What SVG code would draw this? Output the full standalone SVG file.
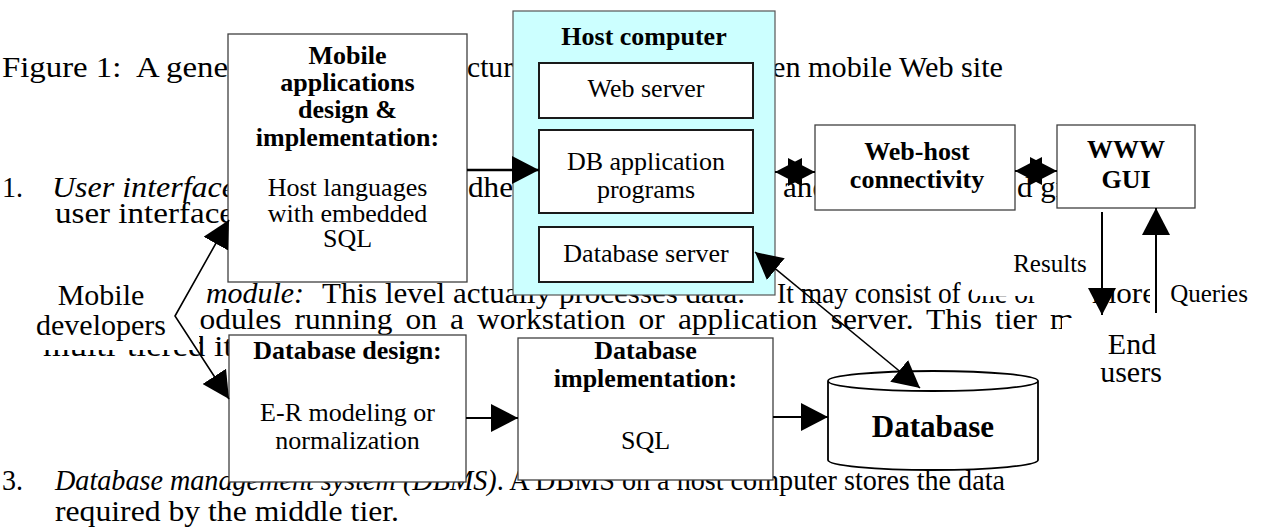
<svg xmlns="http://www.w3.org/2000/svg" width="1264" height="529" viewBox="0 0 1264 529">
<style>
text{font-family:"Liberation Serif","Times New Roman",serif;fill:#000}
.b{font-size:30px}
.i{font-style:italic}
.d{font-size:26px;text-anchor:middle}
.db{font-size:26px;font-weight:bold;text-anchor:middle}
.lab{font-size:30px;text-anchor:middle}
.sm{font-size:25px;text-anchor:middle}
.occ{fill:#fff;stroke:none}
.box{fill:#fff;stroke:#404040;stroke-width:1.3}
.inner{fill:#fff;stroke:#1a1a1a;stroke-width:2}
.ln{stroke:#000;fill:none}
</style>
<defs>
<marker id="ah" viewBox="0 0 27 28" refX="27" refY="14" markerWidth="27" markerHeight="28" markerUnits="userSpaceOnUse" orient="auto-start-reverse">
<path d="M0,0 L27,14 L0,28 Z" fill="#000"/>
</marker>
</defs>
<rect width="1264" height="529" fill="#fff"/>
<g id="page-text">
<text class="b" x="2" y="77" xml:space="preserve" textLength="226" lengthAdjust="spacingAndGlyphs">Figure 1:  A gene</text>
<text class="b" x="467" y="77" textLength="46" lengthAdjust="spacingAndGlyphs">ctur</text>
<text class="b" x="772" y="77" textLength="231" lengthAdjust="spacingAndGlyphs">en mobile Web site</text>
<text class="b" x="2" y="197" textLength="21" lengthAdjust="spacingAndGlyphs">1.</text>
<text class="b i" x="52" y="197" textLength="184" lengthAdjust="spacingAndGlyphs">User interface</text>
<text class="b" x="468" y="197" textLength="45" lengthAdjust="spacingAndGlyphs">dhe</text>
<text class="b" x="783" y="197" textLength="45" lengthAdjust="spacingAndGlyphs">and</text>
<text class="b" x="1017" y="197" xml:space="preserve" textLength="49" lengthAdjust="spacingAndGlyphs">d gr</text>
<text class="b" x="55" y="223" textLength="179" lengthAdjust="spacingAndGlyphs">user interface</text>
<text class="b i" x="206" y="303" textLength="98" lengthAdjust="spacingAndGlyphs">module:</text>
<text class="b" x="322" y="303" textLength="423" lengthAdjust="spacingAndGlyphs">This level actually processes data.</text>
<text class="b" x="777" y="303" textLength="260" lengthAdjust="spacingAndGlyphs">It may consist of one or</text>
<text class="b" x="1092" y="303" textLength="64" lengthAdjust="spacingAndGlyphs">more</text>
<text class="b" x="175" y="329" word-spacing="5" textLength="862" lengthAdjust="spacingAndGlyphs">modules running on a workstation or application server. This tier</text>
<text class="b" x="1050" y="329" textLength="24" lengthAdjust="spacingAndGlyphs">m</text>
<text class="b" x="43" y="356" textLength="190" lengthAdjust="spacingAndGlyphs">multi-tiered it</text>
<text class="b" x="2" y="490" textLength="21" lengthAdjust="spacingAndGlyphs">3.</text>
<text class="b" x="55" y="490" textLength="950" lengthAdjust="spacingAndGlyphs"><tspan class="i">Database management system (DBMS)</tspan>. A DBMS on a host computer stores the data</text>
<text class="b" x="55" y="521" textLength="344" lengthAdjust="spacingAndGlyphs">required by the middle tier.</text>
</g>
<g id="label-backgrounds">
<rect class="occ" x="0" y="250" width="199" height="100"/>
<rect class="occ" x="972" y="250" width="120" height="46"/>
<rect class="occ" x="1150" y="282" width="114" height="30"/>
<rect class="occ" x="1062" y="318" width="140" height="74"/>
</g>
<g id="mobile-apps">
<rect class="box" x="228" y="34" width="239" height="248"/>
<text class="db" x="347.5" y="64">Mobile</text>
<text class="db" x="347.5" y="91">applications</text>
<text class="db" x="347.5" y="118">design &amp;</text>
<text class="db" x="347.5" y="146">implementation:</text>
<text class="d" x="347.5" y="196">Host languages</text>
<text class="d" x="347.5" y="222">with embedded</text>
<text class="d" x="347.5" y="247">SQL</text>
</g>
<g id="host-computer">
<rect x="513" y="11" width="262" height="284" fill="#ccffff" stroke="#555" stroke-width="1.2"/>
<text class="db" x="644" y="45">Host computer</text>
</g>
<g id="web-server">
<rect class="inner" x="539" y="63" width="214" height="55"/>
<text class="d" x="646" y="97">Web server</text>
</g>
<g id="db-app">
<rect class="inner" x="539" y="130" width="214" height="83"/>
<text class="d" x="646" y="170">DB application</text>
<text class="d" x="646" y="198">programs</text>
</g>
<g id="db-server">
<rect class="inner" x="539" y="227" width="214" height="55"/>
<text class="d" x="646" y="262">Database server</text>
</g>
<g id="web-host">
<rect class="box" x="815" y="125" width="200" height="85" stroke-width="1.6"/>
<text class="db" x="917" y="160">Web-host</text>
<text class="db" x="917" y="188">connectivity</text>
</g>
<g id="www-gui">
<rect class="box" x="1057" y="125" width="138" height="83" stroke-width="1.6"/>
<text class="db" x="1126" y="158">WWW</text>
<text class="db" x="1126" y="188">GUI</text>
</g>
<g id="db-design">
<rect class="box" x="229" y="335" width="237" height="147"/>
<text class="db" x="347.5" y="359">Database design:</text>
<text class="d" x="347.5" y="421">E-R modeling or</text>
<text class="d" x="347.5" y="449">normalization</text>
</g>
<g id="db-impl">
<rect class="box" x="518" y="338" width="255" height="142"/>
<text class="db" x="645.5" y="359">Database</text>
<text class="db" x="645.5" y="387">implementation:</text>
<text class="d" x="645.5" y="449">SQL</text>
</g>
<g id="database">
<path d="M828,381 L828,460 A105,10 0 0 0 1038,460 L1038,381 A105,10 0 0 0 828,381 A105,10 0 0 0 1038,381" fill="#fff" stroke="#000" stroke-width="1.8"/>
<text x="933" y="437" font-size="31" font-weight="bold" text-anchor="middle">Database</text>
</g>
<g id="mobile-developers">
<text class="lab" x="101" y="305">Mobile</text>
<text class="lab" x="101" y="335">developers</text>
</g>
<g id="end-users">
<text class="lab" x="1132" y="354">End</text>
<text class="lab" x="1131" y="382">users</text>
</g>
<g id="connectors">
<line class="ln" x1="467" y1="170" x2="539" y2="170" stroke-width="2.5" marker-end="url(#ah)"/>
<line class="ln" x1="775" y1="172" x2="815" y2="172" stroke-width="2" marker-start="url(#ah)" marker-end="url(#ah)"/>
<line class="ln" x1="1015" y1="171" x2="1057" y2="171" stroke-width="2" marker-start="url(#ah)" marker-end="url(#ah)"/>
<line class="ln" x1="1102" y1="212" x2="1102" y2="315" stroke-width="2" marker-end="url(#ah)"/>
<line class="ln" x1="1156" y1="313" x2="1156" y2="208" stroke-width="2" marker-end="url(#ah)"/>
<polyline class="ln" points="229,220 175,316 229,399" stroke-width="1.6" marker-start="url(#ah)" marker-end="url(#ah)"/>
<line class="ln" x1="466" y1="418" x2="518" y2="418" stroke-width="2" marker-end="url(#ah)"/>
<line class="ln" x1="773" y1="417" x2="828" y2="417" stroke-width="2" marker-end="url(#ah)"/>
<line class="ln" x1="755" y1="252" x2="920" y2="388" stroke-width="1.6" marker-start="url(#ah)" marker-end="url(#ah)"/>
<text class="sm" x="1050" y="272">Results</text>
<text class="sm" x="1209" y="302">Queries</text>
</g>
</svg>
